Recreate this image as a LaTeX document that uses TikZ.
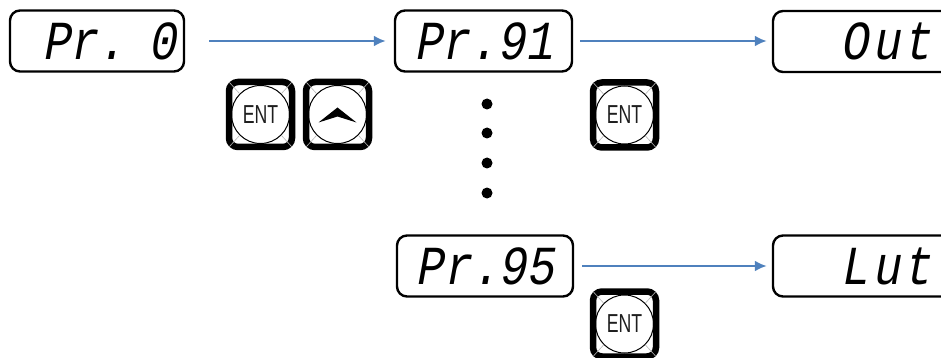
\documentclass[tikz,border=0pt]{standalone}
\usepackage{fontspec}
\usetikzlibrary{arrows.meta,calc}
\newfontfamily\segfont[FakeSlant=0.18,FakeStretch=0.84]{Liberation Mono}
\newfontfamily\keyfont{Liberation Sans}
\definecolor{arrowblue}{RGB}{79,129,189}
\definecolor{keytext}{RGB}{30,30,30}
\tikzset{
  display/.style={draw=black, line width=2.4pt, rounded corners=10pt,
    minimum height=61pt, inner sep=0pt, font=\segfont\fontsize{55}{55}\selectfont},
  flow/.style={draw=arrowblue, line width=2.8pt, -{Latex[length=12pt,width=11pt]}},
  keybox/.style={draw=black, line width=6.5pt, rounded corners=9pt,
    minimum width=63pt, minimum height=65pt, inner sep=0pt},
  keyring/.style={circle, draw=black, line width=1pt, minimum size=58pt, inner sep=0pt,
    font=\keyfont\fontsize{26}{26}\selectfont, text=keytext},
  bevel/.style={draw=black!28, line width=0.6pt},
  dot/.style={circle, fill=black, minimum size=11pt, inner sep=0pt},
}
\newcommand{\narrow}[1]{\scalebox{0.68}[1]{#1}}
\begin{document}
\begin{tikzpicture}[x=1pt,y=-1pt]
\useasboundingbox (0,0) rectangle (941,358);
% displays
\node[display, minimum width=174pt] (p0) at (97,41) {\hspace*{24pt}Pr.\kern-14pt{} 0};
\node[display, minimum width=177pt] (p91) at (483.5,41) {Pr.91};
\node[display, minimum width=228pt] (out) at (887,41.5) {\kern-2pt O\kern4pt u\kern4pt t};
\node[display, minimum width=176pt] (p95) at (485,266) {Pr.95};
\node[display, minimum width=228pt] (lut) at (887,266) {\kern-2pt L\kern4pt u\kern4pt t};
% arrows
\draw[flow, shorten <=24pt, shorten >=8pt] (p0.east) -- (p91.west);
\draw[flow, shorten <=7pt, shorten >=5pt] (p91.east) -- (out.west |- p91.east);
\draw[flow, shorten <=8pt, shorten >=5pt] (p95.east) -- (lut.west |- p95.east);
% dots
\node[dot] (d1) at (487,104) {};
\node[dot] (d2) at (487,133) {};
\node[dot] (d3) at (487,163) {};
\node[dot] (d4) at (487,193) {};
% keys
\node[keybox] (k1) at (260.5,114.5) {};
\node[keyring] (r1) at (k1) {\narrow{ENT}};
\node[keybox] (k2) at (337.5,114.5) {};
\node[keyring] (r2) at (k2) {};
\fill[black] ($(r2)+(-19,8)$) -- ($(r2)+(0,-7)$) -- ($(r2)+(19,8)$) -- ($(r2)+(0,2)$) -- cycle;
\node[keybox] (k3) at (624.5,115) {};
\node[keyring] (r3) at (k3) {\narrow{ENT}};
\node[keybox] (k4) at (624.5,324) {};
\node[keyring] (r4) at (k4) {\narrow{ENT}};
\foreach \k in {1,2,3,4}{
  \draw[bevel] ($(k\k.north west)+(3.5,3.5)$) -- (r\k.north west);
  \draw[bevel] ($(k\k.north east)+(-3.5,3.5)$) -- (r\k.north east);
  \draw[bevel] ($(k\k.south west)+(3.5,-3.5)$) -- (r\k.south west);
  \draw[bevel] ($(k\k.south east)+(-3.5,-3.5)$) -- (r\k.south east);
}
\end{tikzpicture}
\end{document}
